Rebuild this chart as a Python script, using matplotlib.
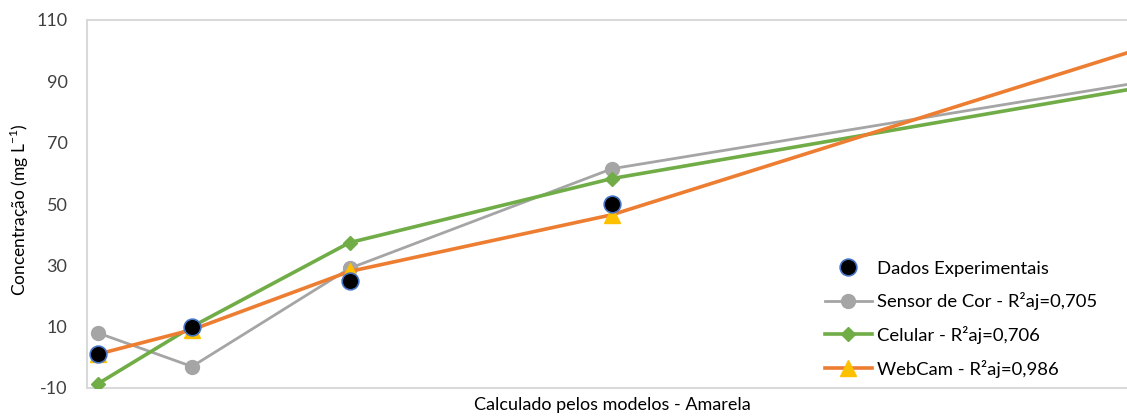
import matplotlib
matplotlib.use("Agg")
import matplotlib.pyplot as plt

plt.rcParams['font.family'] = ['Lato', 'DejaVu Sans']
plt.rcParams['axes.unicode_minus'] = False

x_exp = [1, 10, 25, 50]
y_exp = [1, 10, 25, 50]
x_model = [1, 10, 25, 50, 100]
sensor = [8, -3, 29, 61.5, 89.5]
celular = [-8.7, 10, 37.4, 58.3, 87.8]
webcam = [1, 9, 28, 46.5, 100.3]

labels = ["Dados Experimentais", "Sensor de Cor - R²aj=0,705",
          "Celular - R²aj=0,706", "WebCam - R²aj=0,986"]
yticks = [-10, 10, 30, 50, 70, 90, 110]

fig = plt.figure(figsize=(11.27, 4.16), dpi=100)
ax = fig.add_axes([87/1127, 1-388/416, 1050/1127, 368/416])

ax.plot(x_model, sensor, color="#a5a5a5", lw=2, marker="o", ms=10, zorder=2, label=labels[1])
ax.plot(x_model, celular, color="#70ad47", lw=2.6, marker="D", ms=7, zorder=3, label=labels[2])
ax.plot(x_model, webcam, color="#ed7d31", lw=2.6, marker="^", ms=11,
        markerfacecolor="#ffc000", markeredgecolor="#ffc000", zorder=4, label=labels[3])
ax.plot(x_exp, y_exp, linestyle="none", marker="o", ms=12, markerfacecolor="black",
        markeredgecolor="#4472c4", markeredgewidth=1.2, zorder=5, label=labels[0])

ax.set_xlim(0, 100)
ax.set_ylim(-10, 110)
ax.set_yticks(yticks)
ax.set_yticklabels([str(v) for v in yticks])
ax.set_xticks([])
ax.tick_params(axis='y', length=0, labelsize=13, colors="#404040", pad=14)
for s in ["left", "top", "bottom"]:
    ax.spines[s].set_color("#d9d9d9")
    ax.spines[s].set_linewidth(1.5)
ax.spines["right"].set_visible(False)

fig.text(19/1127, 1-210/416, "Concentração (mg L$^{\\mathregular{-1}}$)", rotation=90,
         ha="center", va="center", fontsize=12.5, color="black")
fig.text(612/1127, 1-405/416, "Calculado pelos modelos - Amarela", ha="center", va="center", fontsize=13)

h, l = ax.get_legend_handles_labels()
order = [3, 0, 1, 2]
leg = ax.legend([h[i] for i in order], [l[i] for i in order], loc="lower left",
                bbox_to_anchor=(818/1127, 1-385/416), bbox_transform=fig.transFigure,
                frameon=False, fontsize=13.3, handlelength=2.5, labelspacing=0.85,
                handletextpad=0.3, borderaxespad=0)

fig.savefig("out.png", dpi=100)
